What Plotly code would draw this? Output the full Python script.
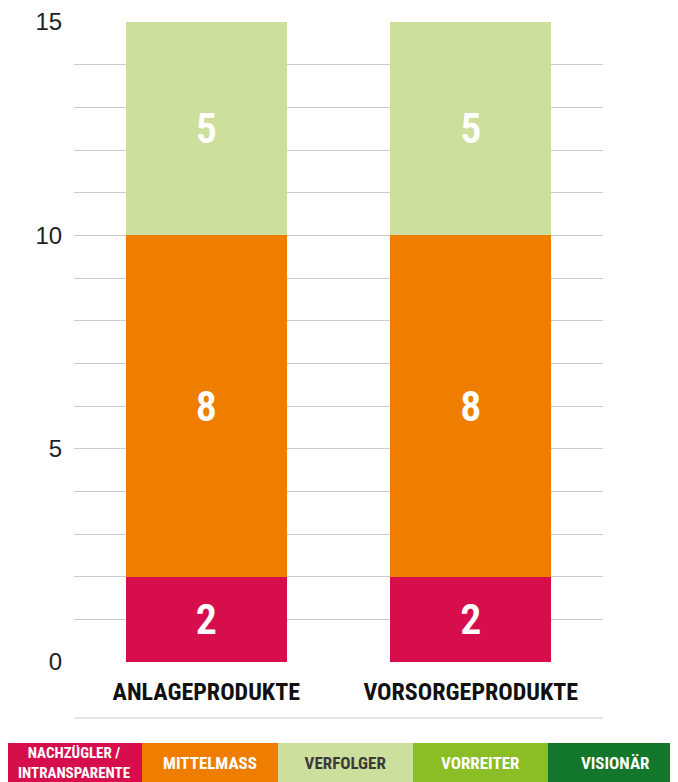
import plotly.graph_objects as go

categories = ["ANLAGEPRODUKTE", "VORSORGEPRODUKTE"]
series_names = ["NACHZÜGLER / INTRANSPARENTE", "MITTELMASS", "VERFOLGER"]
nachzuegler = [2, 2]
mittelmass = [8, 8]
verfolger = [5, 5]
y_ticks = [0, 5, 10, 15]

legend_labels = ["NACHZÜGLER /<br>INTRANSPARENTE", "MITTELMASS", "VERFOLGER", "VORREITER", "VISIONÄR"]
legend_colors = ["#D60F4C", "#EF7D00", "#CCDF9D", "#8BBD25", "#12762B"]
legend_text_colors = ["white", "white", "#3A3A3A", "white", "white"]

COND = "Roboto Condensed, DejaVu Sans Condensed, sans-serif"

OFF = 8  # body margin of the page
W, H = 678 - OFF, 782 - OFF
L, R, T, B = 66, 75, 14, 120
PW, PH = W - L - R, H - T - B

def px_x(x):
    return (x - OFF - L) / PW

def px_y(y):
    return (H - B - (y - OFF)) / PH

fig = go.Figure()
for name, vals, col in zip(series_names, [nachzuegler, mittelmass, verfolger], legend_colors[:3]):
    fig.add_trace(go.Bar(
        x=categories, y=vals, name=name,
        marker=dict(color=col, line=dict(width=0)),
        width=0.61,
        text=vals, texttemplate="%{y}",
        textposition="inside", insidetextanchor="middle", textangle=0,
        textfont=dict(family=COND, size=42, color="white", weight=600),
        showlegend=False,
    ))

fig.update_layout(
    barmode="stack",
    width=W, height=H,
    margin=dict(l=L, r=R, t=T, b=B, pad=0),
    plot_bgcolor="white", paper_bgcolor="white",
    uniformtext=dict(mode=False),
    xaxis=dict(
        range=[-0.5, 1.5], automargin=False,
        tickfont=dict(family=COND, size=24, color="#111111", weight="bold"),
        ticks="outside", ticklen=8, tickcolor="rgba(0,0,0,0)",
        showline=False, showgrid=False,
    ),
    yaxis=dict(
        range=[0, 15], automargin=False,
        tickvals=y_ticks,
        tickfont=dict(family="Liberation Sans, Arial, sans-serif", size=24, color="#222222"),
        ticks="outside", ticklen=6, tickcolor="rgba(0,0,0,0)",
        showgrid=True, gridcolor="#C8CCCC", gridwidth=1,
        minor=dict(dtick=1, showgrid=True, gridcolor="#C8CCCC", gridwidth=1),
        zeroline=False, showline=False,
    ),
)

fig.add_shape(type="line", xref="paper", yref="paper",
              x0=0, x1=1, y0=px_y(718), y1=px_y(718),
              line=dict(color="#C8CCCC", width=1))

edges = [6, 142, 278, 413, 548, 683]
for i, (lab, col, tc) in enumerate(zip(legend_labels, legend_colors, legend_text_colors)):
    x0, x1 = edges[i], edges[i + 1]
    fig.add_annotation(
        xref="paper", yref="paper",
        x=px_x((x0 + x1) / 2), y=px_y(763),
        xanchor="center", yanchor="middle",
        width=x1 - x0, height=40,
        bgcolor=col, borderpad=0, borderwidth=0,
        showarrow=False, align="center",
        text=lab,
        font=dict(family=COND, size=15 if i == 0 else 17, color=tc, weight="bold"),
    )

fig.write_html("out.html")
